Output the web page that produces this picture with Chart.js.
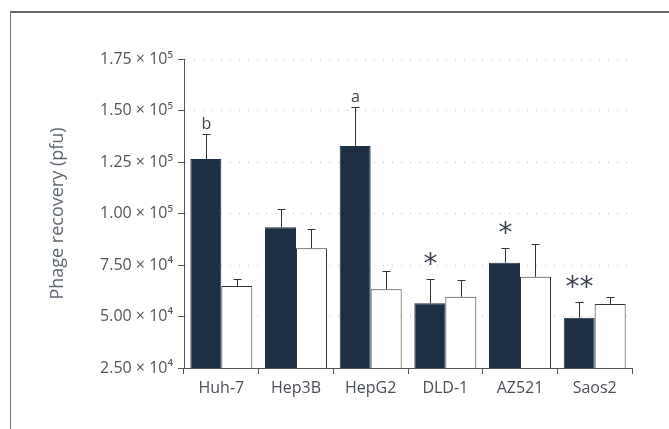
<!DOCTYPE html>
<html>
<head>
<meta charset="utf-8">
<script src="https://cdn.jsdelivr.net/npm/chart.js@4"></script>
<style>
  html, body { margin: 0; padding: 0; background: #fff; }
  #wrap { position: relative; width: 669px; height: 429px; }
  #frame { position: absolute; left: 10px; top: 11px; right: 0; bottom: 0;
           border-top: 2px solid #666; border-left: 1.5px solid #777; }
  canvas { position: absolute; left: 0; top: 0; }
</style>
</head>
<body>
<div id="wrap">
  <div id="frame"></div>
  <canvas id="chart" width="669" height="429"></canvas>
</div>
<script>
var categories = ["Huh-7", "Hep3B", "HepG2", "DLD-1", "AZ521", "Saos2"];
var darkValues = [126500, 93300, 132800, 56400, 76100, 49400];
var darkErrors = [12000, 9000, 19000, 12000, 7000, 7800];
var whiteValues = [64800, 83100, 63200, 59600, 69300, 56100];
var whiteErrors = [3300, 9400, 9000, 8000, 15700, 3500];
var darkMarks = ["b", "", "a", "*", "*", "**"];
var yTicks = [25000, 50000, 75000, 100000, 125000, 150000, 175000];

function tickLabel(v) {
    var sup = { 4: "\u2074", 5: "\u2075" };
    var e = v >= 100000 ? 5 : 4;
    return (v / Math.pow(10, e)).toFixed(2) + " \u00d7 10" + sup[e];
}

// error bars (upwards only) and significance marks
var errorPlugin = {
    id: "errors",
    afterDatasetsDraw: function (chart) {
        var ctx = chart.ctx;
        var y = chart.scales.y;
        var errs = [darkErrors, whiteErrors];
        ctx.save();
        ctx.strokeStyle = "#333";
        ctx.lineWidth = 1;
        for (var d = 0; d < 2; d++) {
            var meta = chart.getDatasetMeta(d);
            var vals = chart.data.datasets[d].data;
            for (var i = 0; i < meta.data.length; i++) {
                var bx = Math.round(meta.data[i].x) + 0.5;
                var y0 = y.getPixelForValue(vals[i]);
                var y1 = Math.round(y.getPixelForValue(vals[i] + errs[d][i])) + 0.5;
                ctx.beginPath();
                ctx.moveTo(bx, y0);
                ctx.lineTo(bx, y1);
                ctx.moveTo(bx - 4, y1);
                ctx.lineTo(bx + 4, y1);
                ctx.stroke();
                if (d == 0 && darkMarks[i]) {
                    var m = darkMarks[i];
                    ctx.fillStyle = "#3d4450";
                    ctx.textAlign = "center";
                    if (m.indexOf("*") >= 0) {
                        ctx.font = "28px 'DejaVu Sans'";
                        ctx.textBaseline = "top";
                        ctx.fillText(m, bx, y1 - 28);
                    } else {
                        ctx.font = "16px 'Open Sans'";
                        ctx.textBaseline = "bottom";
                        ctx.fillText(m, bx, y1 - 2);
                    }
                }
            }
        }
        ctx.restore();
    }
};

new Chart(document.getElementById("chart"), {
    type: "bar",
    data: {
        labels: categories,
        datasets: [
            {
                data: darkValues,
                backgroundColor: "#1d2f45",
                borderColor: "#1d2f45",
                borderWidth: 1,
                categoryPercentage: 0.83,
                barPercentage: 1
            },
            {
                data: whiteValues,
                backgroundColor: "#ffffff",
                borderColor: "#333",
                borderWidth: 1,
                categoryPercentage: 0.83,
                barPercentage: 1
            }
        ]
    },
    options: {
        responsive: false,
        animation: false,
        layout: { padding: { left: 43, top: 59, right: 37, bottom: 0 } },
        plugins: { legend: { display: false }, tooltip: { enabled: false } },
        scales: {
            x: {
                afterFit: function (s) { s.height = 61; },
                grid: { display: true, offset: true, drawOnChartArea: false, tickLength: 6, color: "#555", lineWidth: 1 },
                border: { color: "#555", width: 1 },
                ticks: { color: "#4a4f57", font: { family: "'Open Sans'", size: 16 }, padding: 5 }
            },
            y: {
                min: 25000,
                max: 175000,
                afterFit: function (s) { s.width = 141; },
                afterBuildTicks: function (s) { s.ticks = yTicks.map(function (v) { return { value: v }; }); },
                title: { display: true, text: "Phage recovery (pfu)", color: "#5f6873", font: { family: "'Open Sans'", size: 18 } },
                grid: { color: "#bbb", tickColor: "#555", tickLength: 6, lineWidth: 1 },
                border: { color: "#555", width: 1, dash: [1, 8] },
                ticks: { color: "#555", font: { family: "'Open Sans'", size: 16 }, padding: 5, callback: tickLabel }
            }
        }
    },
    plugins: [errorPlugin]
});
</script>
</body>
</html>
